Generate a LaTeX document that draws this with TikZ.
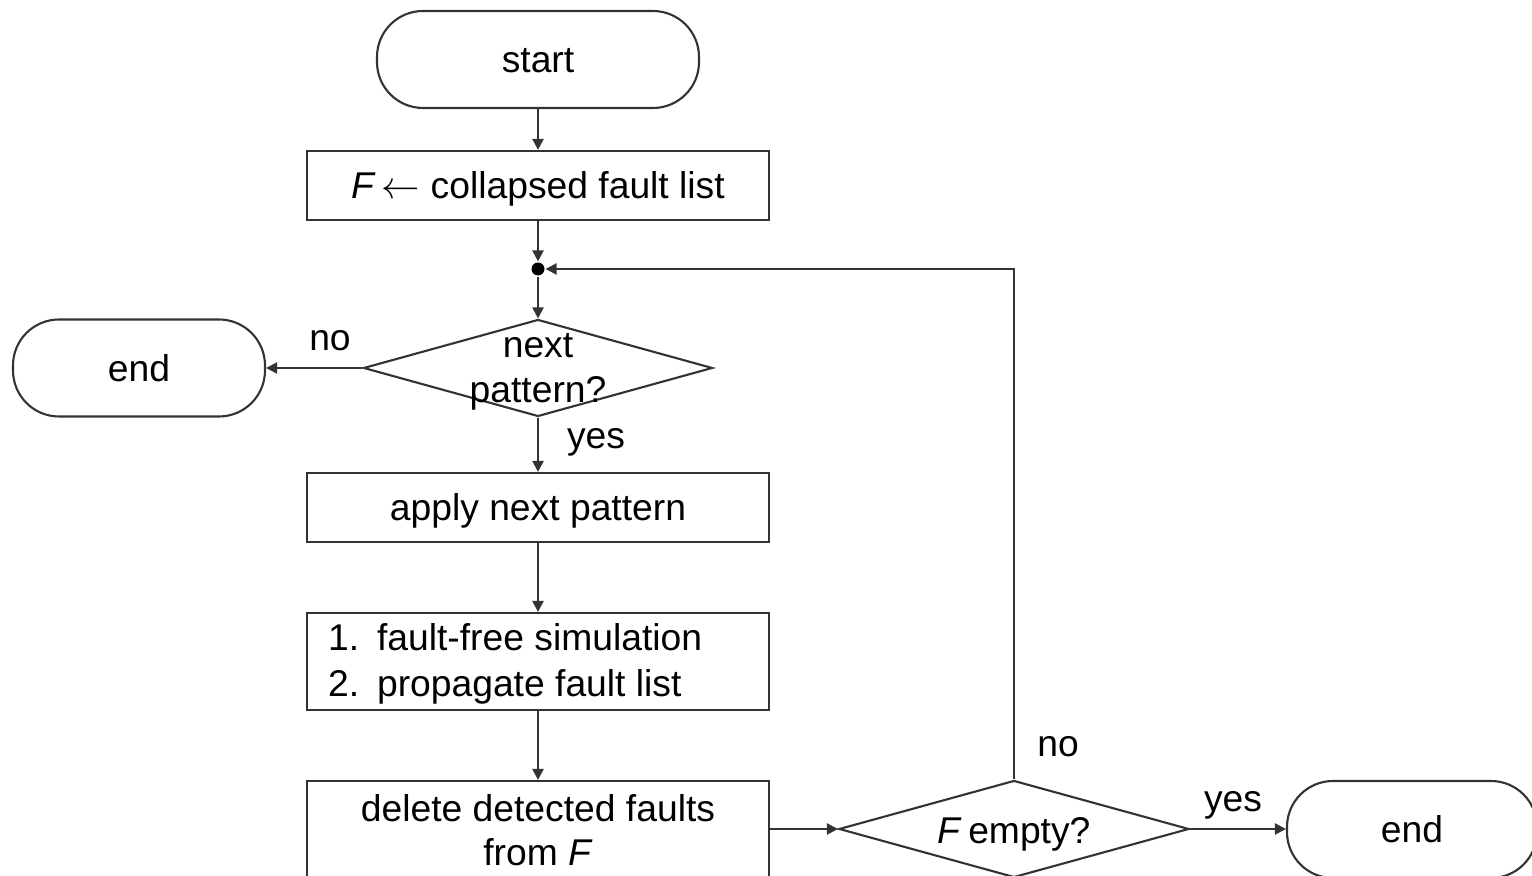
\documentclass[tikz,border=0pt]{standalone}
\usepackage{fontspec}
\setmainfont{Liberation Sans}
\usetikzlibrary{shapes.geometric,arrows.meta}
\definecolor{linegray}{HTML}{333333}
\begin{document}
\begin{tikzpicture}[
  line width=0.6pt,
  every node/.style={font=\fontsize{10.6}{12.8}\selectfont, text=black},
  oneline/.style={text height=0.86em, text depth=0.10em},
  term/.style={draw=linegray, rounded corners=0.46cm, minimum width=#1, minimum height=0.97cm, inner sep=0pt, oneline},
  proc/.style={draw=linegray, minimum width=4.62cm, inner sep=0pt},
  decision/.style={draw=linegray, shape=diamond, minimum width=#1, minimum height=0.97cm, inner sep=0pt},
  joint/.style={circle, fill=black, minimum size=0.13cm, inner sep=0pt},
  flow/.style={draw=linegray, -{Triangle[length=1.1mm,width=1.1mm]}},
]
\useasboundingbox (0,0) rectangle (15.32,-8.76);
\clip (0,0) rectangle (15.32,-8.76);

% main column
\node[term=3.22cm] (start) at (5.38,-0.595) {start};
\node[proc, oneline, minimum height=0.69cm] (fl) at (5.38,-1.855) {\textit{F}\,$\leftarrow$ collapsed fault list};
\node[joint] (j) at (5.38,-2.69) {};
\node[decision=3.49cm] (np) at (5.38,-3.68) {};
\node[align=center] at (5.38,-3.72) {next\\pattern?};
\node[term=2.52cm] (endL) at (1.39,-3.68) {end};
\node[proc, oneline, minimum height=0.69cm] (apply) at (5.38,-5.075) {apply next pattern};
\node[proc, minimum height=0.97cm] (sim) at (5.38,-6.615) {};
\node[align=left, anchor=west, inner sep=0pt, font=\fontsize{10.6}{13.2}\selectfont] at (3.27,-6.64)
  {\makebox[0.49cm][l]{1.}fault-free simulation\\\makebox[0.49cm][l]{2.}propagate fault list};
\node[proc, minimum height=1.02cm] (del) at (5.38,-8.32) {};
\node[align=center, font=\fontsize{10.6}{12.6}\selectfont] at (5.38,-8.30) {delete detected faults\\from \textit{F}};

% termination test
\node[decision=3.50cm] (fe) at (10.14,-8.29) {};
\node[oneline] at (10.14,-8.30) {\textit{F}\,empty?};
\node[term=2.50cm] (endR) at (14.12,-8.295) {end};

% connectors
\draw[flow] (start) -- (fl);
\draw[flow] (fl) -- (j);
\draw[flow] (j) -- (np);
\draw[flow] (np.west) -- (endL.east);
\node at (3.30,-3.41) {no};
\draw[flow] (np.south) -- (apply.north);
\node at (5.96,-4.42) {yes};
\draw[flow] (apply) -- (sim);
\draw[flow] (sim) -- (del);
\draw[flow] (del.east |- fe.west) -- (fe.west);
\draw[flow] (fe.north) |- (j);
\node at (10.58,-7.47) {no};
\draw[flow] (fe.east) -- (endR.west |- fe.east);
\node at (12.33,-8.05) {yes};
\end{tikzpicture}
\end{document}
